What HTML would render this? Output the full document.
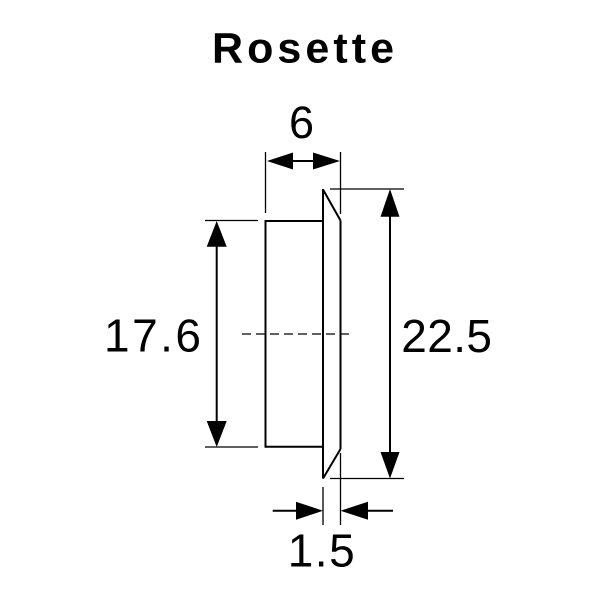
<!DOCTYPE html>
<html><head><meta charset="utf-8"><style>
html,body{margin:0;padding:0;background:#fff;}
svg{display:block;}
text{font-family:"Liberation Sans",Arial,sans-serif;fill:#000;}
</style></head><body>
<svg width="600" height="600" viewBox="0 0 600 600" xmlns="http://www.w3.org/2000/svg">
<rect width="600" height="600" fill="#fff"/>
<text x="212" y="62.5" font-size="43" font-weight="bold" textLength="182" lengthAdjust="spacing">Rosette</text>
<text x="301.5" y="138" font-size="45" text-anchor="middle">6</text>
<text x="104" y="351.7" font-size="46" textLength="97" lengthAdjust="spacing">17.6</text>
<text x="401.3" y="352" font-size="46" textLength="90.7" lengthAdjust="spacing">22.5</text>
<text x="287.7" y="566.5" font-size="46" textLength="67" lengthAdjust="spacing">1.5</text>

<g stroke="#000" fill="none" stroke-width="2">
  <!-- body -->
  <polyline points="323,221 265.5,221 265.5,446.7 323,446.7"/>
  <line x1="323" y1="189" x2="323" y2="478.5"/>
  <line x1="340.5" y1="220.5" x2="340.5" y2="449"/>
  <line x1="323" y1="189.5" x2="340.5" y2="220.5"/>
  <line x1="340.5" y1="449" x2="323" y2="478.5"/>
</g>
<g stroke="#000" fill="none" stroke-width="1.3">
  <!-- extension lines -->
  <line x1="265.5" y1="152" x2="265.5" y2="213"/>
  <line x1="340.5" y1="152" x2="340.5" y2="214"/>
  <line x1="323" y1="487" x2="323" y2="525"/>
  <line x1="340.5" y1="453" x2="340.5" y2="525"/>
  <line x1="205" y1="220.5" x2="258" y2="220.5"/>
  <line x1="205" y1="447" x2="258" y2="447"/>
  <line x1="330" y1="189" x2="404" y2="189"/>
  <line x1="330" y1="478.5" x2="404" y2="478.5"/>
  <line x1="242" y1="334" x2="350" y2="334" stroke-dasharray="9,5"/>
</g>
<g stroke="#000" fill="none" stroke-width="2">
  <line x1="280" y1="161" x2="328" y2="161"/>
  <line x1="216.7" y1="235" x2="216.7" y2="433"/>
  <line x1="390" y1="205" x2="390" y2="462"/>
  <line x1="272.7" y1="510.7" x2="310" y2="510.7"/>
  <line x1="352" y1="510.7" x2="393" y2="510.7"/>
</g>
<g fill="#000" stroke="none">
  <polygon points="267,161 293,152.5 293,169.5"/>
  <polygon points="340,161 313,152.5 313,169.5"/>
  <polygon points="216.7,221 206.7,246.7 226.7,246.7"/>
  <polygon points="216.7,447 206.7,421 226.7,421"/>
  <polygon points="390,189 380.5,216.7 399.5,216.7"/>
  <polygon points="390,478.5 380.5,452 399.5,452"/>
  <polygon points="323,510.7 296,501.7 296,519.7"/>
  <polygon points="340.5,510.7 368,501.7 368,519.7"/>
</g>
</svg>
</body></html>
